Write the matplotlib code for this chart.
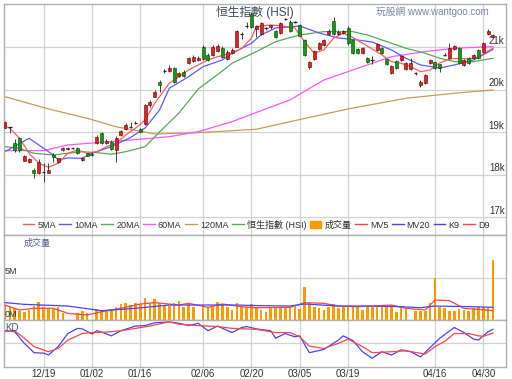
import numpy as np
import matplotlib
matplotlib.use('Agg')
import matplotlib.pyplot as plt
from matplotlib.lines import Line2D
from matplotlib.patches import Patch

plt.rcParams['font.family'] = ['Liberation Sans', 'Noto Sans CJK TC', 'DejaVu Sans']

# x axis: one slot per trading day
tick_slots = [8, 18, 28, 41, 51, 61, 71, 89, 99]
tick_labels = ['12/19', '01/02', '01/16', '02/06', '02/20', '03/05', '03/19', '04/16', '04/30']

# daily candles (HSI)
open_ = [19113, 19122, 18746, 18863, 18336, 18299, 18117, 18040, 18078, 18054,
         18470, 18299, 18588, 18600, 18628, 18628, 18353, 18510, 18505, 18746,
         18981, 18746, 18783, 18588, 18941, 19075, 19136, 19230, 19082, 19193,
         19647, 19842, 20181, 20447, 20454, 20525, 20329, 20416, 20628, 20682,
         20706, 21019, 20823, 20823, 20918, 20995, 20722, 20863, 21019, 21311,
         21506, 21788, 21435, 21318, 21447, 21480, 21388, 21341, 21670, 21607,
         21600, 21529, 21176, 20529, 20729, 20953, 21059, 21318, 21623, 21311,
         21341, 21459, 21176, 20965, 20870, 20753, 20706, 20941, 20995, 20722,
         20393, 20682, 20706, 20494, 20494, 20393, 20118, 20158, 20628, 20652,
         20605, 20823, 20760, 20958, 20981, 20588, 20760, 20745, 20941, 20901,
         21306, 21254]
high = [19270, 19136, 18840, 18901, 18470, 18393, 18158, 18369, 18275, 18275,
        18510, 18407, 18659, 18660, 18640, 18647, 18430, 18525, 18530, 18929,
        19012, 18835, 18823, 18918, 19059, 19223, 19254, 19270, 19095, 19670,
        19765, 20000, 20235, 20487, 20588, 20541, 20424, 20470, 20776, 20823,
        20800, 21059, 20870, 21059, 21082, 21035, 20941, 20988, 21412, 21365,
        21600, 21835, 21529, 21600, 21482, 21530, 21420, 21600, 21700, 21640,
        21630, 21560, 21200, 20690, 20930, 21130, 21200, 21435, 21718, 21400,
        21400, 21506, 21200, 20988, 21000, 20780, 20800, 21100, 21010, 20740,
        20580, 20700, 20830, 20650, 20753, 20420, 20223, 20370, 20730, 20670,
        20620, 20870, 21106, 21059, 21000, 20720, 20780, 20840, 20960, 21130,
        21430, 21320]
low = [19094, 18981, 18534, 18548, 18329, 18282, 17922, 18023, 17842, 18040,
       18313, 18282, 18565, 18580, 18615, 18494, 18329, 18440, 18435, 18729,
       18729, 18735, 18588, 18313, 18918, 19059, 19099, 19200, 19000, 19176,
       19600, 19842, 19960, 20393, 20424, 20165, 20306, 20306, 20600, 20659,
       20682, 20706, 20682, 20800, 20894, 20753, 20706, 20847, 21000, 21200,
       21459, 21459, 21247, 21294, 21412, 21440, 21220, 21320, 21640, 21370,
       21570, 21260, 20800, 20500, 20706, 20930, 21030, 21294, 21294, 21290,
       21318, 21059, 20850, 20850, 20850, 20640, 20612, 20920, 20850, 20590,
       20370, 20500, 20690, 20470, 20480, 20360, 20070, 20140, 20610, 20500,
       20424, 20800, 20740, 20940, 20610, 20570, 20610, 20730, 20730, 20880,
       21290, 21230]
close = [19240, 19122, 18588, 18588, 18454, 18369, 18040, 18299, 18078, 18117,
         18416, 18393, 18642, 18640, 18628, 18510, 18407, 18454, 18460, 18887,
         18746, 18807, 18605, 18878, 19035, 19176, 19136, 19230, 19019, 19647,
         19725, 19960, 20118, 20447, 20511, 20181, 20407, 20329, 20746, 20769,
         20760, 20722, 20706, 21019, 21035, 20783, 20901, 20941, 21388, 21311,
         21506, 21482, 21506, 21569, 21447, 21520, 21240, 21569, 21670, 21388,
         21600, 21278, 20823, 20666, 20906, 21094, 21176, 21376, 21318, 21372,
         21376, 21106, 20870, 20870, 20981, 20659, 20706, 21075, 20863, 20605,
         20565, 20525, 20807, 20628, 20628, 20393, 20181, 20353, 20706, 20525,
         20510, 20823, 20995, 21035, 20628, 20706, 20628, 20823, 20746, 21113,
         21388, 21301]

# moving averages (slot, value)
ma5_idx = [0, 1, 3, 5, 7, 9, 11, 13, 15, 17, 19, 21, 23, 25, 27, 29, 31, 34, 36, 38, 40, 42,
           44, 47, 49, 51, 52, 55, 57, 60, 62, 64, 66, 68, 70, 72, 74, 76, 78, 80, 82, 84,
           86, 88, 90, 92, 94, 96, 98, 100, 101]
ma5 = [19150, 19099, 18863, 18510, 18275, 18181, 18275, 18510, 18588, 18510, 18548, 18666,
       18746, 18941, 19099, 19294, 19687, 20158, 20313, 20470, 20588, 20706, 20783, 20863,
       20981, 21216, 21489, 21529, 21513, 21459, 21136, 20863, 20941, 21216, 21334, 21235,
       21099, 20965, 20823, 20666, 20628, 20548, 20431, 20470, 20635, 20729, 20741, 20729,
       20776, 20918, 20981]
ma10_idx = [0, 5, 10, 11, 13, 16, 18, 22, 26, 29, 32, 34, 38, 41, 45, 47, 51, 53, 56, 59,
            61, 65, 69, 73, 76, 80, 83, 86, 90, 93, 97, 101]
ma10 = [18548, 18863, 18470, 18353, 18400, 18393, 18510, 18666, 18882, 19106, 19529, 20040,
        20313, 20548, 20706, 20863, 21099, 21294, 21459, 21482, 21506, 21341, 21223, 21176,
        21129, 20941, 20746, 20588, 20518, 20588, 20706, 20953]
ma20_idx = [0, 3, 6, 10, 13, 16, 19, 22, 25, 29, 32, 36, 40, 45, 47, 52, 56, 61, 66, 72,
            75, 80, 83, 87, 90, 93, 97, 101]
ma20 = [18666, 18628, 18510, 18470, 18510, 18548, 18525, 18487, 18548, 18666, 19012, 19459,
        20023, 20447, 20628, 20901, 21136, 21294, 21372, 21372, 21294, 21099, 20981, 20863,
        20746, 20666, 20666, 20746]
ma60_idx = [0, 8, 13, 20, 26, 34, 40, 47, 52, 59, 66, 73, 80, 87, 93, 101]
ma60 = [18572, 18572, 18706, 18769, 18823, 18901, 19019, 19254, 19470, 19765, 20235, 20510,
        20783, 20901, 20981, 21019]
ma120_idx = [0, 9, 17, 23, 31, 40, 52, 62, 71, 83, 93, 101]
ma120 = [19842, 19553, 19334, 19136, 18965, 18995, 19075, 19329, 19553, 19805, 19922, 20000]

# volume (millions), nan = no bar
nan = np.nan
volume = [1.77, 1.5, 1.38, 1.1, 0.98, 1.18, 1.65, 2.13, 1.57, 1.38,
          1.26, 1.5, 0.87, nan, nan, 0.79, 1.1, 0.87, nan, 1.26,
          1.1, 1.1, 1.26, 1.5, 1.89, 1.97, 1.77, 1.97, 1.89, 2.56,
          1.97, 2.44, 1.97, 1.65, 1.65, 2.05, 2.28, 1.5, 2.05, 1.5,
          nan, 1.77, 1.5, 1.65, 2.17, 1.89, 1.5, 1.18, 1.97, 1.5,
          1.57, 1.89, 1.57, 1.18, 0.98, 1.57, 1.57, 1.57, 1.57, 1.57,
          1.65, 1.26, 3.94, 1.97, 1.57, 1.38, 1.18, 1.5, 1.89, 1.38,
          1.5, 1.57, 1.5, 1.57, 1.18, 1.5, 1.5, 1.5, 1.5, 1.5,
          1.81, 0.98, 1.5, 1.38, nan, 1.1, 1.1, 1.1, 2.05, 5.0,
          1.5, 1.38, 1.1, 1.1, 1.26, 1.18, 1.1, 1.38, 1.5, 1.5,
          1.5, 7.1]
mv5_idx = [0, 3, 6, 10, 13, 17, 20, 24, 28, 31, 36, 38, 42, 45, 49, 52, 59, 62, 66, 69,
           73, 80, 83, 87, 89, 92, 95, 98, 101]
mv5 = [1.77, 1.18, 1.38, 1.38, 0.79, 0.59, 0.98, 1.38, 1.89, 2.05, 1.77, 1.97, 1.5, 1.89,
       1.57, 1.45, 1.5, 2.05, 1.97, 1.65, 1.57, 1.77, 1.38, 1.18, 2.36, 2.28, 1.38, 1.26, 1.1]
mv20_idx = [0, 4, 13, 20, 27, 34, 40, 48, 52, 59, 62, 69, 76, 82, 86, 89, 97, 101]
mv20 = [2.05, 1.85, 1.65, 1.1, 1.38, 1.77, 1.77, 1.77, 1.7, 1.65, 1.89, 1.65, 1.65, 1.57,
        1.45, 1.65, 1.57, 1.5]

# KD
k_idx = [0, 2, 4, 6, 8, 9, 11, 13, 15, 16, 18, 19, 20, 22, 24, 27, 29, 31, 34, 36, 38, 40,
         42, 44, 47, 49, 50, 52, 55, 56, 58, 60, 61, 63, 66, 69, 70, 72, 74, 76, 78, 80,
         82, 84, 86, 89, 90, 93, 95, 97, 98, 100, 101]
k9 = [77, 75, 50, 30, 29, 25, 43, 71, 82, 81, 70, 77, 74, 66, 77, 87, 88, 94, 96, 93, 88, 93,
      77, 87, 73, 84, 86, 81, 77, 61, 71, 64, 66, 30, 37, 57, 66, 56, 32, 18, 32, 25,
      36, 32, 21, 51, 61, 84, 73, 59, 57, 75, 80]
d_idx = [0, 2, 4, 6, 9, 11, 13, 16, 18, 21, 24, 27, 30, 34, 36, 40, 44, 47, 52, 56, 59, 61,
         63, 66, 69, 71, 74, 76, 80, 83, 87, 89, 91, 93, 96, 98, 99, 101]
d9 = [75, 77, 61, 43, 32, 39, 57, 71, 73, 74, 77, 82, 87, 96, 91, 88, 86, 82, 80, 73, 73, 64,
      44, 39, 50, 59, 43, 30, 32, 34, 27, 43, 54, 71, 71, 66, 65, 72]

# colours
RED = '#e61e1e'
GREEN = '#109a10'
GRID = '#d2d2d2'
TXT = '#333333'

o = np.array(open_, float)
h = np.array(high, float)
l = np.array(low, float)
c = np.array(close, float)
x = np.arange(len(c))

fig = plt.figure(figsize=(5.12, 3.79), dpi=100)
L, W = 3.5 / 512, 502.5 / 512
ax = fig.add_axes([L, 0.38, W, 0.6095])
axv = fig.add_axes([L, 0.1557, W, 0.2243], sharex=ax)
axk = fig.add_axes([L, 0.0325, W, 0.1232], sharex=ax)

# price panel
ax.plot(ma120_idx, ma120, color='#c89b5a', lw=0.9, zorder=2)
ax.plot(ma60_idx, ma60, color='#ff55ff', lw=0.9, zorder=2)
ax.plot(ma20_idx, ma20, color='#55aa55', lw=0.9, zorder=2)
ax.plot(ma10_idx, ma10, color='#5a5aff', lw=0.9, zorder=2)
ax.plot(ma5_idx, ma5, color='#ff5a5a', lw=0.9, zorder=2)

ax.vlines(x, l, h, color='#222222', lw=0.6, zorder=3)
up = c > o
dn = c < o
fl = c == o
ax.bar(x[up], (c - o)[up], bottom=o[up], width=0.62, color=RED, edgecolor='#600000',
       lw=0.4, zorder=4)
ax.bar(x[dn], (o - c)[dn], bottom=c[dn], width=0.62, color=GREEN, edgecolor='#004000',
       lw=0.4, zorder=4)
ax.hlines(c[fl], x[fl] - 0.35, x[fl] + 0.35, color='#222222', lw=0.9, zorder=4)

ax.set_xlim(-0.31, 103.7)
ax.set_ylim(16588, 22023)
ax.set_yticks([17000, 18000, 19000, 20000, 21000])
for v in [17000, 18000, 19000, 20000, 21000]:
    ax.text(0.997, v + 40, f'{v // 1000}k', transform=ax.get_yaxis_transform(),
            ha='right', va='bottom', fontsize=7, color=TXT)

# volume panel
axv.bar(x, volume, width=0.55, color='#ff9900', zorder=2)
axv.plot(mv5_idx, mv5, color='#ff4444', lw=0.9, zorder=3)
axv.plot(mv20_idx, mv20, color='#4444ff', lw=0.9, zorder=3)
axv.set_ylim(0, 10.05)
axv.set_yticks([5])
axv.text(0.003, 5.15, '5M', transform=axv.get_yaxis_transform(), ha='left', va='bottom',
         fontsize=6.5, color=TXT)
axv.text(0.003, 0.15, '0M', transform=axv.get_yaxis_transform(), ha='left', va='bottom',
         fontsize=6.5, color=TXT)
axv.text(0.041, 0.9, '成交量', transform=axv.transAxes, ha='left', va='center',
         fontsize=6.5, color='#556688')

# KD panel
axk.plot(k_idx, k9, color='#4444ff', lw=0.9)
axk.plot(d_idx, d9, color='#ff4444', lw=0.9)
axk.set_ylim(0, 100)
axk.set_yticks([50])
axk.text(0.003, 0.83, 'KD', transform=axk.transAxes, ha='left', va='center',
         fontsize=7, color='#445577')

for a in (ax, axv, axk):
    a.grid(True, color=GRID, lw=0.9, zorder=0)
    a.set_axisbelow(True)
    a.tick_params(length=0, labelleft=False, labelbottom=False)
    for s in a.spines.values():
        s.set_color('#b0b0b0')
        s.set_linewidth(1)

axk.set_xticks(tick_slots)
axk.set_xticklabels(tick_labels)
axk.tick_params(labelbottom=True, labelsize=7, labelcolor=TXT, pad=2)

# legend row
handles = [
    Line2D([], [], color='#ff5a5a', lw=1), Line2D([], [], color='#5a5aff', lw=1),
    Line2D([], [], color='#55aa55', lw=1), Line2D([], [], color='#ff55ff', lw=1),
    Line2D([], [], color='#c89b5a', lw=1), Line2D([], [], color='#55aa55', lw=1),
    Patch(color='#ff9900'), Line2D([], [], color='#ff4444', lw=1),
    Line2D([], [], color='#4444ff', lw=1), Line2D([], [], color='#4444ff', lw=1),
    Line2D([], [], color='#ff4444', lw=1),
]
labels = ['5MA', '10MA', '20MA', '60MA', '120MA', '恒生指數 (HSI)', '成交量', 'MV5', 'MV20',
          'K9', 'D9']
fig.legend(handles, labels, loc='center', bbox_to_anchor=(0.5, 0.407), ncol=11,
           frameon=False, fontsize=6.5, handlelength=1.3, handleheight=0.9,
           handletextpad=0.35, columnspacing=0.38, labelcolor=TXT, borderpad=0)

fig.text(0.498, 0.968, '恒生指數 (HSI)', ha='center', va='center', fontsize=8.5,
         color='#3a4a5a')
fig.text(0.844, 0.968, '玩股網 www.wantgoo.com', ha='center', va='center', fontsize=7,
         color='#7a88a8')

fig.savefig('out.png', dpi=100)
